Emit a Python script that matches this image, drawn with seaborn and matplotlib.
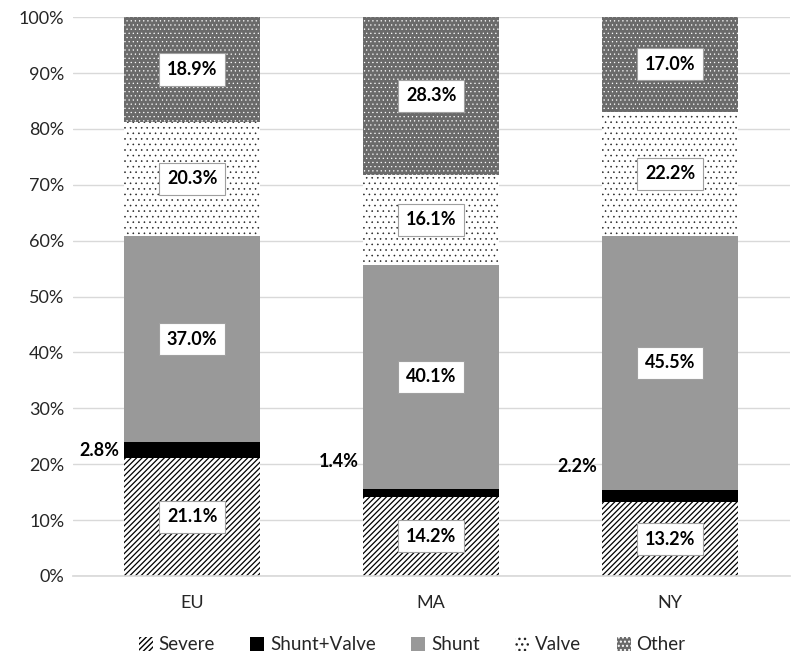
import matplotlib
matplotlib.use("Agg")
import matplotlib.pyplot as plt
import seaborn as sns
import numpy as np
import pandas as pd
from matplotlib.patches import Patch

regions = ["EU", "MA", "NY"]
categories = ["Severe", "Shunt+Valve", "Shunt", "Valve", "Other"]
severe = [21.1, 14.2, 13.2]
shunt_valve = [2.8, 1.4, 2.2]
shunt = [37.0, 40.1, 45.5]
valve = [20.3, 16.1, 22.2]
other = [18.9, 28.3, 17.0]

series = [severe, shunt_valve, shunt, valve, other]
styles = {
    "Severe": dict(color="white", edgecolor="black", hatch="//////", hlw=0.9),
    "Shunt+Valve": dict(color="black", edgecolor="black", hatch=None, hlw=0.9),
    "Shunt": dict(color="#999999", edgecolor="#999999", hatch=None, hlw=0.9),
    "Valve": dict(color="white", edgecolor="#222222", hatch="...", hlw=0.4),
    "Other": dict(color="#6a6a6a", edgecolor="white", hatch="....", hlw=0.4),
}

sns.set_theme(style="white")
plt.rcParams["font.family"] = ["Lato", "DejaVu Sans"]

fig = plt.figure(figsize=(8, 6.62), dpi=100)
ax = fig.add_axes([0.091, 0.13, 0.896, 0.844])

bottom = np.zeros(len(regions))
for cat, vals in zip(categories, series):
    df = pd.DataFrame({"region": regions, "value": vals})
    st = styles[cat]
    with plt.rc_context({"hatch.linewidth": st["hlw"]}):
        sns.barplot(data=df, x="region", y="value", bottom=bottom, ax=ax,
                    color=st["color"], edgecolor=st["edgecolor"], hatch=st["hatch"],
                    linewidth=0, width=0.57, saturation=1, zorder=2)
    centers = bottom + np.array(vals) / 2
    for i, v in enumerate(vals):
        if cat == "Shunt+Valve":
            # labels sit outside, to the left of the bar
            offs = {0: 0.0, 1: 5.5, 2: 5.2}[i]
            ax.text(i - 0.57 / 2 - 0.02, centers[i] + offs, f"{v:.1f}%",
                    ha="right", va="center", fontsize=13, fontweight="bold",
                    color="black", zorder=5)
        else:
            ypos = min(centers[i], 100 - (100 - bottom[i]) / 2 + 1.5) if cat == "Other" else centers[i]
            ax.text(i, ypos, f"{v:.1f}%", ha="center", va="center", fontsize=13,
                    fontweight="bold", color="black", zorder=5,
                    bbox=dict(boxstyle="square,pad=0.42", facecolor="white",
                              edgecolor="#a0a0a0", linewidth=0.8))
    bottom = bottom + np.array(vals)

ax.set_ylim(0, 100)
ax.set_xlim(-0.5, 2.5)
ax.set_yticks(np.arange(0, 101, 10))
ax.set_yticklabels([f"{t}%" for t in range(0, 101, 10)], fontsize=13)
ax.tick_params(axis="x", labelsize=13, length=0, pad=14)
ax.tick_params(axis="y", length=0, pad=6)
ax.yaxis.grid(True, color="#d9d9d9", linewidth=1, zorder=0)
ax.set_axisbelow(True)
for s in ["top", "right", "left"]:
    ax.spines[s].set_visible(False)
ax.spines["bottom"].set_color("#d9d9d9")
ax.set_xlabel("")
ax.set_ylabel("")

handles = []
for c in categories:
    st = styles[c]
    handles.append(Patch(facecolor=st["color"], edgecolor=st["edgecolor"],
                         hatch=st["hatch"], linewidth=0))
fig.legend(handles, categories, loc="center", bbox_to_anchor=(0.515, 0.026),
           ncol=5, frameon=False, fontsize=13.5, handlelength=0.75, handleheight=0.75,
           handletextpad=0.3, columnspacing=1.9)

fig.savefig("out.png", dpi=100)
